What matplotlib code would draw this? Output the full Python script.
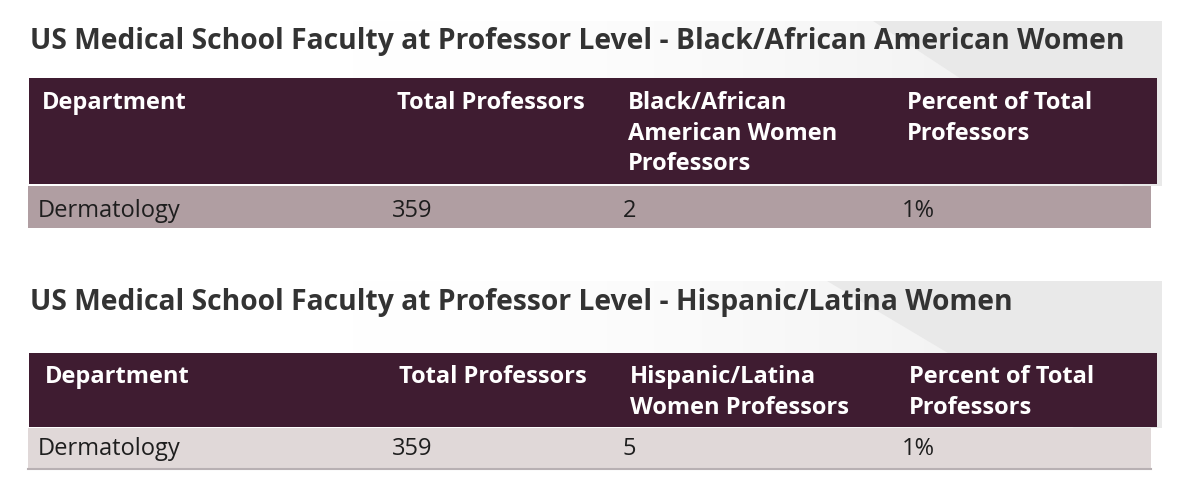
import numpy as np
import matplotlib.pyplot as plt
from matplotlib.patches import Rectangle, Polygon

# table contents
titles = ['US Medical School Faculty at Professor Level - Black/African American Women',
          'US Medical School Faculty at Professor Level - Hispanic/Latina Women']
headers_1 = ['Department', 'Total Professors', 'Black/African\nAmerican Women\nProfessors', 'Percent of Total\nProfessors']
headers_2 = ['Department', 'Total Professors', 'Hispanic/Latina\nWomen Professors', 'Percent of Total\nProfessors']
department = ['Dermatology', 'Dermatology']
total_professors = [359, 359]
women_professors = [2, 5]
percent_of_total = [1, 1]

header_col = '#3f1c31'
row_cols = ['#b09ea2', '#e0d8d8']
title_col = '#333333'

plt.rcParams['font.family'] = ['Open Sans', 'DejaVu Sans']

fig = plt.figure(figsize=(12, 5.03), dpi=100)
ax = fig.add_axes([0, 0, 1, 1])
ax.set_xlim(0, 1200)
ax.set_ylim(503, 0)
ax.axis('off')

# layout of each block (pixels): band, title baseline, header box, row box, baselines
blocks = [
    dict(band=(21, 186), title_y=49, head=(78, 184), row=(186, 228), diag=((873, 21), (940, 65)),
         text_y=[109, 140, 170], row_y=217),
    dict(band=(281, 428), title_y=310, head=(353, 427), row=(428, 469), diag=((827, 281), (943, 350)),
         text_y=[383, 414], row_y=455),
]
header_sets = [headers_1, headers_2]
head_x = [[42, 397, 628, 907], [45, 399, 630, 909]]
data_x = [38, 392, 623, 902]

for i, b in enumerate(blocks):
    # faint gray band behind the title, fading to white on the left
    grad = np.linspace(0, 1, 256)[None, :] ** 1.6
    g = np.ones((1, 256, 3))
    for c in range(3):
        g[..., c] = 1 - grad * (1 - 0.925)
    ax.imshow(g, extent=(350, 1162, b['band'][1], b['band'][0]), aspect='auto', zorder=0)
    (x0, y0), (x1, y1) = b['diag']
    slope = (x1 - x0) / (y1 - y0)
    xb = x0 + slope * (b['band'][1] - y0)
    ax.add_patch(Polygon([(x0, b['band'][0]), (1162, b['band'][0]), (1162, b['band'][1]), (xb, b['band'][1])],
                         closed=True, fc='#e9e9e9', ec='none', zorder=0.5))

    ax.text(30, b['title_y'], titles[i], fontsize=20.3, fontweight='bold', color=title_col,
            va='baseline', ha='left', zorder=3)

    # header
    ax.add_patch(Rectangle((29, b['head'][0]), 1157 - 29, b['head'][1] - b['head'][0],
                           fc=header_col, ec='none', zorder=2))
    for j, h in enumerate(header_sets[i]):
        for k, line in enumerate(h.split('\n')):
            ax.text(head_x[i][j], b['text_y'][k], line, fontsize=17, fontweight='bold',
                    color='white', va='baseline', ha='left', zorder=3)

    # data row
    ax.add_patch(Rectangle((28, b['row'][0]), 1151 - 28, b['row'][1] - b['row'][0],
                           fc=row_cols[i], ec='none', zorder=2))
    if i == 1:
        ax.plot([28, 1151], [b['row'][1], b['row'][1]], color='#b8b0b3', lw=1.5, zorder=2.5)
    vals = [department[i], str(total_professors[i]), str(women_professors[i]), f'{percent_of_total[i]}%']
    for j, v in enumerate(vals):
        ax.text(data_x[j], b['row_y'], v, fontsize=17, color='#1e1e1e',
                va='baseline', ha='left', zorder=3)

fig.savefig('out.png', dpi=100)
